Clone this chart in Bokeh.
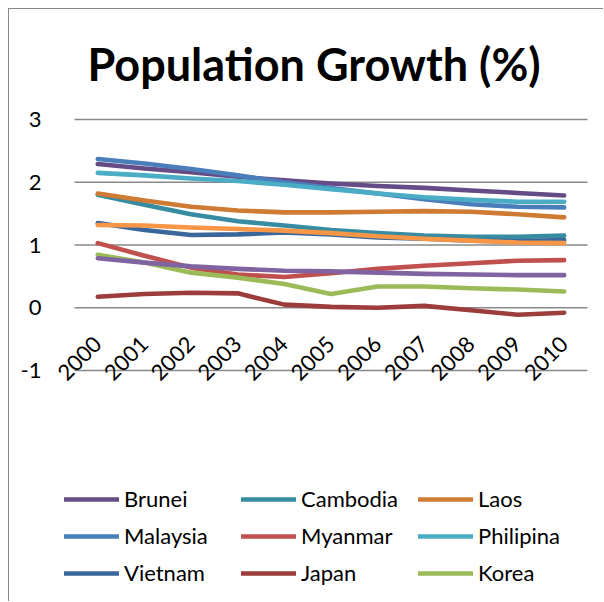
import math
from bokeh.plotting import figure
from bokeh.models import (Range1d, FixedTicker, Legend, LegendItem,
                          LabelSet, ColumnDataSource, Title)
from bokeh.core.properties import value
from bokeh.embed import file_html
from bokeh.resources import INLINE

years = [2000, 2001, 2002, 2003, 2004, 2005, 2006, 2007, 2008, 2009, 2010]
year_labels = ["2000", "2001", "2002", "2003", "2004", "2005", "2006", "2007", "2008", "2009", "2010"]

brunei    = [2.29, 2.22, 2.16, 2.09, 2.03, 1.98, 1.94, 1.91, 1.87, 1.83, 1.79]
cambodia  = [1.80, 1.64, 1.49, 1.38, 1.31, 1.24, 1.19, 1.15, 1.13, 1.13, 1.15]
laos      = [1.82, 1.71, 1.61, 1.55, 1.52, 1.52, 1.53, 1.54, 1.53, 1.49, 1.44]
malaysia  = [2.37, 2.30, 2.21, 2.11, 2.00, 1.91, 1.82, 1.73, 1.65, 1.61, 1.60]
myanmar   = [1.03, 0.83, 0.64, 0.53, 0.49, 0.55, 0.62, 0.67, 0.71, 0.75, 0.76]
philipina = [2.15, 2.11, 2.06, 2.02, 1.96, 1.89, 1.82, 1.76, 1.72, 1.69, 1.69]
vietnam   = [1.35, 1.24, 1.16, 1.17, 1.20, 1.17, 1.12, 1.10, 1.07, 1.06, 1.08]
japan     = [0.175, 0.22, 0.24, 0.23, 0.05, 0.015, 0.0, 0.03, -0.04, -0.11, -0.08]
korea     = [0.845, 0.72, 0.56, 0.48, 0.38, 0.22, 0.34, 0.34, 0.31, 0.29, 0.26]
extra_purple = [0.79, 0.72, 0.66, 0.62, 0.59, 0.58, 0.56, 0.54, 0.53, 0.52, 0.52]
extra_orange = [1.32, 1.31, 1.28, 1.255, 1.23, 1.19, 1.14, 1.10, 1.07, 1.04, 1.03]

y_ticks = [-1, 0, 1, 2, 3]
y_tick_labels = ["-1", "0", "1", "2", "3"]

series = [
    ("Brunei", brunei, "#654C86"),
    ("Cambodia", cambodia, "#378CA1"),
    ("Laos", laos, "#CF7B34"),
    ("Malaysia", malaysia, "#4A7EBB"),
    ("Myanmar", myanmar, "#C0504D"),
    ("Philipina", philipina, "#4BACC6"),
    ("Vietnam", vietnam, "#3A679B"),
    ("Japan", japan, "#9C3D3B"),
    ("Korea", korea, "#9BBB59"),
    (None, extra_purple, "#8064A2"),
    (None, extra_orange, "#F79646"),
]

FONT = "Lato"

p = figure(width=595, height=593,
           x_range=Range1d(1999.115, 2010.607), y_range=Range1d(-4.633, 3.064),
           output_backend="svg", toolbar_location=None,
           min_border_left=47, min_border_right=12, min_border_top=106,
           min_border_bottom=4)
p.styles = {"margin-left": "8px", "margin-top": "8px",
            "border-left": "1px solid #878787", "border-top": "1px solid #878787"}
p.outline_line_color = None
p.background_fill_color = "white"
p.border_fill_color = "white"

p.title = Title(text="Population Growth (%)", align="left", text_font=FONT,
                text_font_size="45px", text_font_style="bold", text_color="black",
                offset=31, standoff=50)

p.xgrid.grid_line_color = None
p.ygrid.grid_line_color = None

# horizontal gridlines over the category span only
p.segment(x0=[years[0] - 0.5] * len(y_ticks), x1=[years[-1] + 0.5] * len(y_ticks),
          y0=y_ticks, y1=y_ticks, line_color="#898989", line_width=1.4)

p.yaxis.ticker = FixedTicker(ticks=y_ticks)
p.yaxis.major_label_overrides = {t: s for t, s in zip(y_ticks, y_tick_labels)}
p.yaxis.axis_line_color = None
p.yaxis.major_tick_line_color = None
p.yaxis.minor_tick_line_color = None
p.yaxis.major_label_standoff = 9
p.yaxis.major_label_text_font = FONT
p.yaxis.major_label_text_font_size = "22px"
p.yaxis.major_label_text_color = "black"
p.xaxis.visible = False

items = []
for name, vals, col in series:
    r = p.line(years, vals, line_color=col, line_width=4.6,
               line_cap="round", line_join="round")
    if name:
        items.append(LegendItem(label=name, renderers=[r]))

src = ColumnDataSource(dict(x=years, y=[y_ticks[0]] * len(years), t=year_labels))
labels = LabelSet(x="x", y="y", text="t", source=src, angle=math.pi / 4,
                  text_align="right", text_baseline="middle", y_offset=30,
                  text_font=value(FONT), text_font_size="22px", text_color="black")
p.add_layout(labels)

legend = Legend(items=items, location=(8, 12), orientation="horizontal", ncols=3,
                glyph_width=55, glyph_height=22, label_standoff=5, spacing=10,
                label_width=107,
                label_text_font=FONT, label_text_font_size="22px",
                label_text_color="black", padding=0, margin=0,
                border_line_alpha=0, background_fill_alpha=0)
p.add_layout(legend, "center")

open("out.html", "w").write(file_html(p, INLINE))
